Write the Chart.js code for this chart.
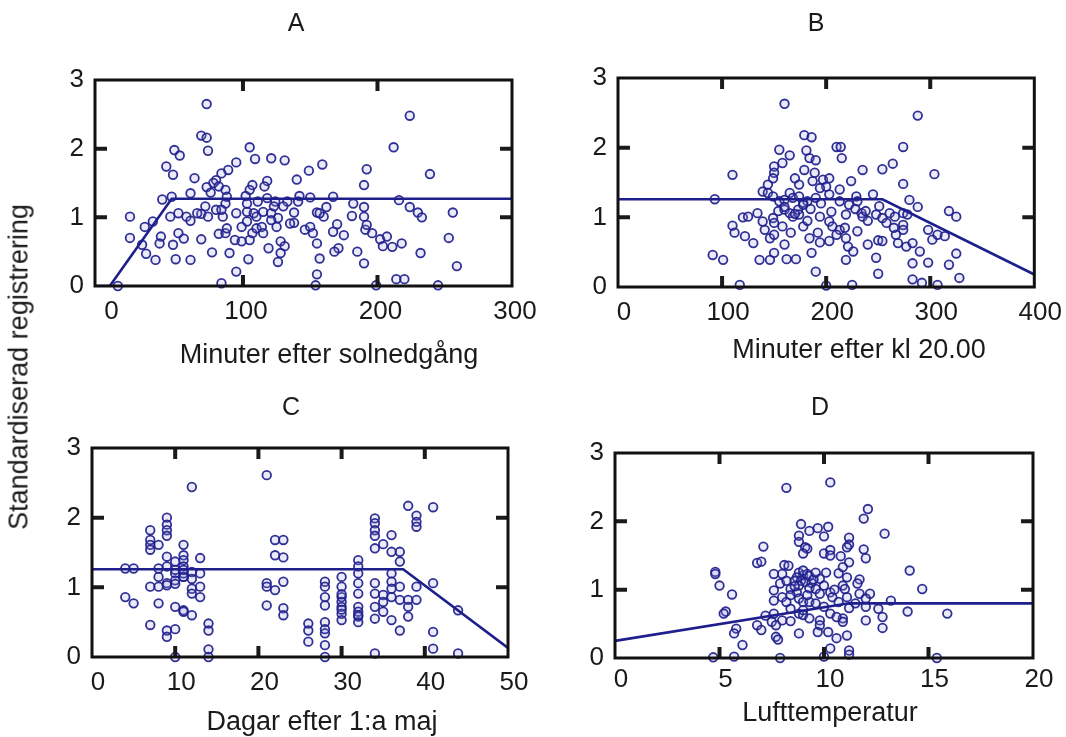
<!DOCTYPE html>
<html>
<head>
<meta charset="utf-8">
<script src="https://cdn.jsdelivr.net/npm/chart.js@4.4.1/dist/chart.umd.min.js"></script>
<style>
  html, body { margin: 0; padding: 0; background: #fff; overflow: hidden; }
  body { width: 1066px; height: 737px; position: relative; font-family: "Liberation Sans", Arial, sans-serif; }
  canvas { position: absolute; }
  #ytitle {
    position: absolute; left: 19px; top: 367px;
    transform: translate(-50%, -50%) rotate(-90deg);
    white-space: nowrap; font-size: 27px; color: #1a1a1a;
  }
</style>
</head>
<body>
<canvas id="panelA"></canvas>
<canvas id="panelB"></canvas>
<canvas id="panelC"></canvas>
<canvas id="panelD"></canvas>
<div id="ytitle">Standardiserad registrering</div>
<script>
// A: minutes after sunset
const aMinutes = [73,224,69,73,49,53,74,105,109,121, 131,212,43,48,64,95,89,84,80,78,
  149,159,140,118,116,107,105,192,190,239, 73,76,82,61,87,40,47,88,102,118,
  124,133,142,150,167,182,216,141, 16,46,52,58,61,69,74,80,85,87,
  72,103,103,108,110,115,121,123,126,121, 138,138,155,160,162,181,190,190,224,230,
  233,256, 27,33,39,38,52,56,48,16,25,28, 35,50,61,69,77,82,87,88,90,94,
  99,104,105,107,110,114,115,119,128,131, 128,126, 146,150,152,155,157,155,170,167,175,171,
  168,185,190,191,196,192,202,207,204,211, 218,232,253,259,95,84,154,199,214,220,
  245,7, 103,111,130,95,99,84,66,125,135,157];
const aScore = [2.65,2.48,2.19,2.16,1.98,1.90,1.97,2.02,1.85,1.86, 1.83,2.02,1.74,1.62,1.57,1.80,1.69,1.64,1.54,1.50,
  1.68,1.77,1.55,1.53,1.45,1.47,1.40,1.70,1.47,1.63, 1.44,1.36,1.45,1.35,1.40,1.26,1.30,1.30,1.31,1.28,
  1.23,1.23,1.31,1.29,1.30,1.20,1.25,1.23, 1.01,1.01,1.06,1.01,0.95,1.05,1.01,1.11,1.01,1.20,
  1.16,1.08,0.94,1.06,1.01,1.08,1.06,1.16,0.99,0.96, 1.07,0.92,1.07,1.01,1.15,1.02,1.15,1.01,1.15,1.07,
  1.00,1.07, 0.86,0.94,0.72,0.62,0.77,0.69,0.60,0.70,0.60,0.47, 0.38,0.39,0.38,0.68,0.49,0.76,0.77,0.84,0.48,0.67,
  0.65,0.39,0.67,0.77,0.84,0.86,0.77,0.55,0.65,0.58, 0.48,0.35, 0.82,0.86,0.77,0.62,0.40,0.17,0.90,0.79,0.74,0.55,
  0.50,0.50,0.33,0.82,0.77,0.89,0.68,0.72,0.58,0.57, 0.62,0.48,0.70,0.29,0.21,0.04,0.01,0.01,0.10,0.10,
  0.01,0, 1.20,1.23,1.16,1.06,0.86,1.11,1.06,0.86,0.91,1.06];
const aFitX = [-10, 1, 47, 300];
const aFitY = [0, 0, 1.27, 1.27];
const aTicks = [0, 100, 200, 300];

// B: minutes after 20.00
const bMinutes = [160,288,179,186,155,165,181,184,190,210,214,215,274,
  110,150,150,149,158,170,174,179,189,187,197,203,200,194,213,224,235,254,264,274,304,
  144,139,144,149,155,160,165,168,174,178,182,190,203,213,229,230,245,93,280,288,
  120,125,134,139,149,154,160,165,168,173,174,178,194,203,219,222,234,235,238,248,251,254,261,266,274,278,318,325,
  110,112,122,130,141,146,150,158,166,178,184,192,194,203,206,213,218,219,221,226,
  219,240,250,254,258,267,269,274,274,277,283,290,298,302,307,314,
  91,101,136,146,150,160,162,171,186,190,248,250,283,298,318,325,328,283,117,200,225,292,307,
  160,170,185,195,205,228,240,150,182,210,230,265];
const bScore = [2.63,2.46,2.18,2.15,1.97,1.89,1.96,1.85,1.82,2.01,2.01,1.85,2.01,
  1.61,1.73,1.64,1.56,1.78,1.56,1.47,1.68,1.64,1.52,1.54,1.56,1.44,1.42,1.40,1.52,1.68,1.69,1.77,1.48,1.62,
  1.47,1.37,1.35,1.30,1.23,1.25,1.35,1.28,1.30,1.21,1.23,1.28,1.33,1.23,1.30,1.23,1.33,1.26,1.25,1.15,
  1.00,1.01,1.06,0.94,0.99,1.09,1.11,1.06,1.01,1.11,1.04,1.18,1.01,0.94,1.04,1.18,1.06,1.01,1.09,1.04,1.16,0.99,1.06,1.01,1.06,1.04,1.09,1.01,
  0.88,0.78,0.73,0.63,0.82,0.70,0.75,0.87,0.78,0.87,0.70,0.78,0.64,0.66,0.87,0.82,0.85,0.70,0.58,0.51,
  0.39,0.61,0.67,0.66,0.92,0.75,0.63,0.89,0.82,0.58,0.63,0.51,0.82,0.68,0.75,0.73,
  0.46,0.39,0.39,0.39,0.49,0.61,0.40,0.40,0.49,0.22,0.42,0.19,0.34,0.35,0.32,0.48,0.13,0.11,0.03,0.02,0.03,0.06,0.03,
  1.15,1.05,1.12,1.20,1.08,1.12,0.95,0.92,0.95,0.75,0.80,0.85];
const bFitX = [0, 254, 400];
const bFitY = [1.26, 1.26, 0.18];
const bTicks = [0, 100, 200, 300, 400];

// C: days after 1 May
const cDays = [21,12,38,41,39,39,39,9,9,9, 9,7,7,7,7,8,11,11,11,13,
  22,22,23,23,34,34,34,34,34,35, 36,37,37,36,4,5,8,8,8,9,
  9,9,10,10,10,11,11,11,11,12, 12,13,13,13,4,5,7,8,10,11,
  12,11,7,9,9,10,14,14,14,21, 21,22,23,21,23,23,26,26,26,28,
  28,28,28,28,28,28,30,30,30,30, 30,30,30,32,32,32,32,32,32,32,
  32,32,34,34,34,34,35,35,35,36, 36,36,36,36,37,37,37,38,38,38,
  39,39,41,41,41,44,44,34,28,10, 14,
  10,11,12,10,12,9,32,30,28,30];
const cScore = [2.61,2.44,2.17,2.15,2.03,1.94,1.87,2.00,1.90,1.82, 1.74,1.82,1.68,1.61,1.54,1.61,1.61,1.46,1.39,1.42,
  1.68,1.46,1.68,1.43,1.99,1.92,1.82,1.74,1.56,1.62, 1.75,1.51,1.37,1.51,1.27,1.27,1.27,1.15,1.01,1.44,
  1.06,1.30,1.37,1.20,1.10,1.15,1.30,1.20,1.15,0.98, 0.91,0.86,1.01,1.20,0.86,0.77,1.01,0.77,0.72,0.67,
  0.60,0.65,0.46,0.38,0.29,0.40,0.48,0.38,0.11,1.06, 1.01,0.96,1.08,0.74,0.70,0.60,0.48,0.38,0.22,1.08,
  1.01,0.86,0.74,0.50,0.34,0.17,1.15,1.01,0.86,0.79, 0.72,0.62,0.53,1.39,1.30,1.20,1.06,0.91,0.72,0.65,
  0.58,0.50,1.06,0.91,0.72,0.55,0.89,0.79,0.65,1.20, 1.08,0.98,0.86,0.53,0.38,1.01,0.82,0.82,0.72,0.58,
  0.82,1.01,1.06,0.36,0.12,0.67,0.05,0.05,0,0, 0,
  1.25,1.25,1.22,1.05,1.12,1.03,0.60,0.68,0.40,0.90];
const cFitX = [0, 37.4, 50];
const cFitY = [1.26, 1.26, 0.13];
const cTicks = [0, 10, 20, 30, 40, 50];

// D: air temperature
const dTemp = [8.2,10.3,12.1,11.9,12.9,8.9,10.2,9.7,10.0,9.3, 8.8,8.8,11.2,11.2,11.1,7.1,6.8,7.0,9.1,9.2,
  9.0,10.0,10.3,10.3,10.8,11.2,11.9,12.0,4.8,4.8, 5.0,5.6,5.3,5.2,7.6,8.1,8.3,8.0,8.8,9.0,
  9.2,8.7,8.6,8.9,9.1,9.4,9.8,10.1,10.7,10.9, 11.1,11.7,14.1,14.7,7.6,7.9,8.2,8.4,8.8,8.7,
  9.3,9.6,9.8,10.0,10.3,10.9,11.0,11.6,11.7,12.2, 7.6,8.0,8.2,8.4,8.8,9.0,9.3,9.6,10.4,11.1,
  10.7,11.2,12.0,12.0,12.6,12.8,13.2,14.0,15.9,7.2, 7.6,7.5,7.7,8.0,8.4,8.8,9.0,9.3,9.8,9.8,
  10.3,10.9,10.9,12.0,12.8,6.8,7.0,5.8,5.7,6.1, 7.7,7.8,8.8,9.7,10.2,10.6,11.1,10.3,11.2,11.2,
  7.9,5.7,4.7,15.4,10.0,
  9.3,9.5,9.0,8.6,9.6,10.5,9.2,8.4,9.0,10.0,10.6,11.5];
const dScore = [2.49,2.57,2.18,2.04,1.82,1.96,1.92,1.90,1.78,1.86, 1.79,1.70,1.76,1.66,1.62,1.63,1.39,1.41,1.62,1.60,
  1.53,1.53,1.58,1.50,1.49,1.40,1.59,1.46,1.26,1.23, 1.06,0.93,0.68,0.65,1.23,1.36,1.35,1.23,1.25,1.21,
  1.23,1.18,1.13,1.13,1.11,1.10,1.16,1.25,1.24,1.33, 1.18,1.15,1.28,1.01,0.99,1.09,1.13,1.01,1.06,0.96,
  1.02,1.01,0.94,1.06,0.96,1.06,1.01,1.09,0.94,0.94, 0.84,0.89,0.82,0.92,0.87,0.82,0.82,0.80,0.89,0.89,
  0.82,0.73,0.87,0.75,0.72,0.60,0.84,0.68,0.65,0.62, 0.65,0.53,0.48,0.55,0.54,0.65,0.63,0.58,0.55,0.48,
  0.65,0.58,0.53,0.55,0.44,0.48,0.41,0.43,0.36,0.19, 0.31,0.27,0.36,0.38,0.38,0.29,0.33,0.14,0.11,0.05,
  0,0.02,0.01,0,0.02,
  1.20,1.15,1.28,1.05,1.25,1.00,0.92,0.72,0.70,0.75,0.60,0.80];
const dFitX = [0, 11.2, 20];
const dFitY = [0.25, 0.80, 0.80];
const dTicks = [0, 5, 10, 15, 20];

const yTicks = [0, 1, 2, 3];

const ink = '#1e1e8c';
const textColor = '#1a1a1a';
const fontFamily = '"Liberation Sans", Arial, sans-serif';

// box around the plot area with short inward tick marks on all four sides
const framePlugin = {
  id: 'frame',
  afterDatasetsDraw(chart) {
    const { ctx, chartArea: a, scales: { x, y } } = chart;
    ctx.save();
    ctx.strokeStyle = '#1a1a1a';
    ctx.lineWidth = 4;
    ctx.beginPath();
    x.ticks.forEach(t => {
      const px = x.getPixelForValue(t.value);
      if (px - a.left < 15 || a.right - px < 15) return;
      ctx.moveTo(px, a.top); ctx.lineTo(px, a.top + 11);
      ctx.moveTo(px, a.bottom); ctx.lineTo(px, a.bottom - 11);
    });
    y.ticks.forEach(t => {
      const py = y.getPixelForValue(t.value);
      if (py - a.top < 15 || a.bottom - py < 15) return;
      ctx.moveTo(a.left, py); ctx.lineTo(a.left + 12, py);
      ctx.moveTo(a.right, py); ctx.lineTo(a.right - 12, py);
    });
    ctx.stroke();
    ctx.lineWidth = 3;
    ctx.strokeStyle = '#111';
    ctx.strokeRect(a.left, a.top, a.right - a.left, a.bottom - a.top);
    ctx.restore();
  }
};

// panel letter and x-axis caption, placed in page coordinates
function captionPlugin(p) {
  return {
    id: 'captions',
    afterDraw(chart) {
      const ctx = chart.ctx;
      ctx.save();
      ctx.fillStyle = textColor;
      ctx.textAlign = 'center';
      ctx.textBaseline = 'middle';
      ctx.font = '25px ' + fontFamily;
      ctx.fillText(p.title, p.titlePos[0] - p.box.left, p.titlePos[1] - p.box.top);
      ctx.font = '27px ' + fontFamily;
      ctx.fillText(p.xTitle, p.xTitlePos[0] - p.box.left, p.xTitlePos[1] - p.box.top);
      ctx.restore();
    }
  };
}

function toPoints(xs, ys) {
  return xs.map((v, i) => ({ x: v, y: ys[i] }));
}

function makePanel(id, p) {
  const canvas = document.getElementById(id);
  canvas.width = p.box.width;
  canvas.height = p.box.height;
  canvas.style.left = p.box.left + 'px';
  canvas.style.top = p.box.top + 'px';

  const xAxisHeight = p.box.top + p.box.height - p.area.b;

  return new Chart(canvas, {
    data: {
      datasets: [
        {
          type: 'scatter',
          data: toPoints(p.fitX, p.fitY),
          showLine: true,
          borderColor: ink,
          borderWidth: 2.6,
          pointRadius: 0
        },
        {
          type: 'scatter',
          data: toPoints(p.xs, p.ys),
          pointRadius: 4.3,
          pointBorderWidth: 1.8,
          pointBorderColor: 'rgba(32,32,140,0.92)',
          pointBackgroundColor: 'rgba(150,150,225,0.2)',
          clip: false
        }
      ]
    },
    options: {
      responsive: false,
      animation: false,
      devicePixelRatio: 1,
      layout: {
        padding: {
          left: 0,
          right: p.box.left + p.box.width - p.area.r,
          top: p.area.t - p.box.top,
          bottom: 0
        }
      },
      plugins: {
        legend: { display: false },
        tooltip: { enabled: false },
        title: { display: false }
      },
      scales: {
        x: {
          type: 'linear',
          min: p.xMin,
          max: p.xMax,
          afterBuildTicks: s => { s.ticks = p.xTicks.map(v => ({ value: v })); },
          afterFit: s => { s.height = xAxisHeight; },
          grid: { display: false, drawTicks: false },
          border: { display: false },
          ticks: {
            color: textColor,
            padding: p.tickPad,
            labelOffset: p.labelOffset,
            maxRotation: 0,
            font: { family: fontFamily, size: 26 }
          }
        },
        y: {
          type: 'linear',
          min: 0,
          max: 3,
          afterBuildTicks: s => { s.ticks = yTicks.map(v => ({ value: v })); },
          afterFit: s => { s.width = p.area.l - p.box.left; },
          grid: { display: false, drawTicks: false },
          border: { display: false },
          ticks: {
            color: textColor,
            padding: 11,
            font: { family: fontFamily, size: 26 }
          }
        }
      }
    },
    plugins: [framePlugin, captionPlugin(p)]
  });
}

makePanel('panelA', {
  box: { left: 35, top: 0, width: 517, height: 372 },
  area: { l: 95, t: 80, r: 512, b: 286 },
  titlePos: [296, 24], xTitlePos: [329, 356], labelOffset: 3, tickPad: 10,
  title: 'A', xTitle: 'Minuter efter solnedgång',
  xMin: -10, xMax: 300, xTicks: aTicks,
  xs: aMinutes, ys: aScore, fitX: aFitX, fitY: aFitY
});

makePanel('panelB', {
  box: { left: 558, top: 0, width: 508, height: 372 },
  area: { l: 618, t: 78, r: 1035, b: 287 },
  titlePos: [816, 24], xTitlePos: [859, 351], labelOffset: 6, tickPad: 10,
  title: 'B', xTitle: 'Minuter efter kl 20.00',
  xMin: 0, xMax: 400, xTicks: bTicks,
  xs: bMinutes, ys: bScore, fitX: bFitX, fitY: bFitY
});

makePanel('panelC', {
  box: { left: 32, top: 372, width: 520, height: 365 },
  area: { l: 92, t: 448, r: 508, b: 657 },
  titlePos: [291, 408], xTitlePos: [322, 723], labelOffset: 6, tickPad: 10,
  title: 'C', xTitle: 'Dagar efter 1:a maj',
  xMin: 0, xMax: 50, xTicks: cTicks,
  xs: cDays, ys: cScore, fitX: cFitX, fitY: cFitY
});

makePanel('panelD', {
  box: { left: 555, top: 372, width: 511, height: 365 },
  area: { l: 615, t: 453, r: 1033, b: 658 },
  titlePos: [820, 408], xTitlePos: [830, 714], labelOffset: 6, tickPad: 6,
  title: 'D', xTitle: 'Lufttemperatur',
  xMin: 0, xMax: 20, xTicks: dTicks,
  xs: dTemp, ys: dScore, fitX: dFitX, fitY: dFitY
});
</script>
</body>
</html>
